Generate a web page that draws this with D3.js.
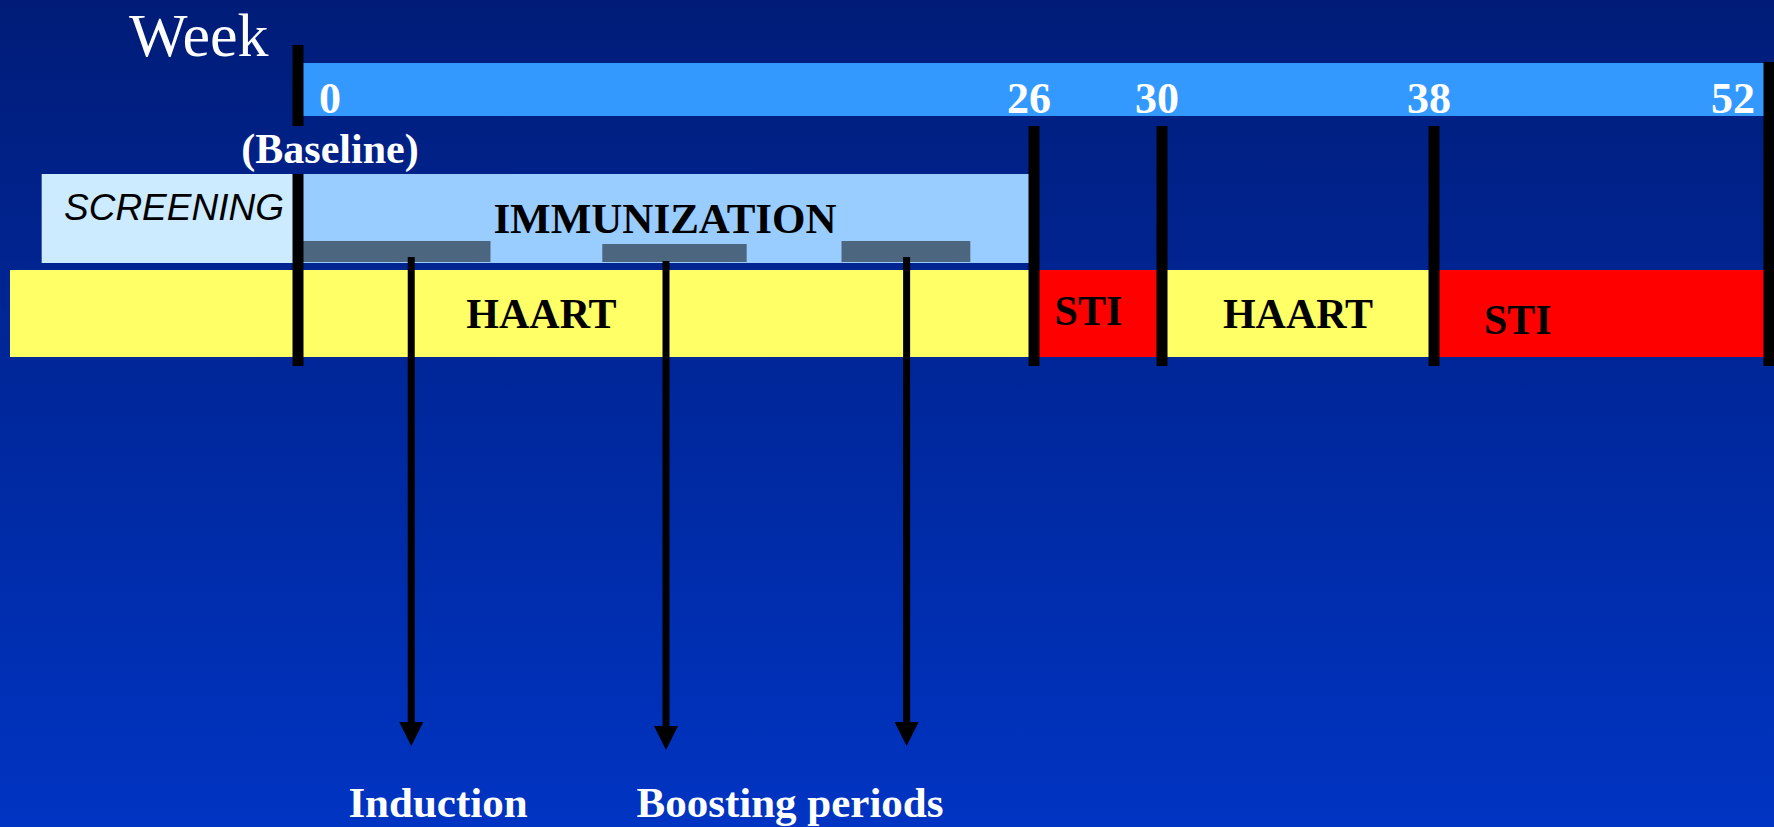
<!DOCTYPE html>
<html>
<head>
<meta charset="utf-8">
<script src="https://cdn.jsdelivr.net/npm/d3@7"></script>
<style>
  html, body { margin: 0; padding: 0; overflow: hidden; }
  svg { display: block; }
</style>
</head>
<body>
<div id="chart"></div>
<script>
// week markers on the timeline
const weekTicks = [0, 26, 30, 38, 52];

// treatment row (weeks)
const treatment = [
  { name: "HAART", start: -10, end: 26, labelWeek: 8.6 },
  { name: "STI", start: 26, end: 30, labelWeek: 27.7 },
  { name: "HAART", start: 30, end: 38, labelWeek: 34 },
  { name: "STI", start: 38, end: 52, labelWeek: 41.5 }
];

// study phases row (weeks)
const phases = [
  { name: "SCREENING", start: -8.9, end: 0 },
  { name: "IMMUNIZATION", start: 0, end: 26 }
];

// vaccination periods (weeks) and where each arrow points from
const periods = [
  { start: 0, end: 6.8, arrowWeek: 4 },
  { start: 10.75, end: 15.85, arrowWeek: 13 },
  { start: 19.2, end: 23.75, arrowWeek: 21.5 }
];

const bottomLabels = ["Induction", "Boosting periods"];

const width = 1774,
  height = 827;

const svg = d3.select("#chart").append("svg").attr("width", width).attr("height", height);

const grad = svg.append("defs").append("linearGradient").attr("id", "bg").attr("x1", 0).attr("y1", 0).attr("x2", 0).attr("y2", 1);
grad.append("stop").attr("offset", "0%").attr("stop-color", "#001c78");
grad.append("stop").attr("offset", "100%").attr("stop-color", "#0034c2");

svg.append("rect").attr("width", width).attr("height", height).attr("fill", "url(#bg)");

// schematic timeline: segments are not drawn to one scale
const x = d3.scaleLinear().domain([-10, 0, 26, 30, 38, 52]).range([10, 298, 1034, 1162, 1434, 1769]);

const serif = "'Liberation Serif', 'Times New Roman', serif";
const phaseColor = { SCREENING: "#ccebff", IMMUNIZATION: "#99ccff" };
const treatColor = { HAART: "#ffff66", STI: "#ff0000" };

// week band
svg.append("rect").attr("x", x(0)).attr("y", 63).attr("width", x(52) - x(0)).attr("height", 53).attr("fill", "#3399ff");

svg.append("text").attr("x", 129).attr("y", 56).attr("fill", "#fff").attr("font-family", serif).attr("font-size", 62).text("Week");

svg
  .selectAll("text.tick")
  .data(weekTicks)
  .join("text")
  .attr("class", "tick")
  .attr("x", d => (d === 0 ? x(d) + 32 : d === 52 ? x(d) - 36 : x(d) - 5))
  .attr("y", 113)
  .attr("text-anchor", "middle")
  .attr("fill", "#fff")
  .attr("font-family", serif)
  .attr("font-weight", "bold")
  .attr("font-size", 44)
  .text(d => d);

svg
  .append("text")
  .attr("x", x(0) + 32)
  .attr("y", 163)
  .attr("text-anchor", "middle")
  .attr("fill", "#fff")
  .attr("font-family", serif)
  .attr("font-weight", "bold")
  .attr("font-size", 42)
  .text("(Baseline)");

// phases
svg
  .selectAll("rect.phase")
  .data(phases)
  .join("rect")
  .attr("class", "phase")
  .attr("x", d => x(d.start))
  .attr("y", 174)
  .attr("width", d => x(d.end) - x(d.start))
  .attr("height", 89)
  .attr("fill", d => phaseColor[d.name]);

svg
  .append("text")
  .attr("x", 64)
  .attr("y", 220)
  .attr("font-family", "'Liberation Sans', Arial, sans-serif")
  .attr("font-style", "italic")
  .attr("font-size", 37)
  .text(phases[0].name);

svg
  .append("text")
  .attr("x", x(13) - 1)
  .attr("y", 233)
  .attr("text-anchor", "middle")
  .attr("font-family", serif)
  .attr("font-weight", "bold")
  .attr("font-size", 43)
  .text(phases[1].name);

svg
  .selectAll("rect.period")
  .data(periods)
  .join("rect")
  .attr("class", "period")
  .attr("x", d => x(d.start))
  .attr("y", (d, i) => (i === 1 ? 244 : 241))
  .attr("width", d => x(d.end) - x(d.start))
  .attr("height", (d, i) => (i === 1 ? 18 : 21))
  .attr("fill", "#4d6680");

// treatment row
svg
  .selectAll("rect.treat")
  .data(treatment)
  .join("rect")
  .attr("class", "treat")
  .attr("x", d => x(d.start))
  .attr("y", 270)
  .attr("width", d => x(d.end) - x(d.start))
  .attr("height", 87)
  .attr("fill", d => treatColor[d.name]);

svg
  .selectAll("text.treat")
  .data(treatment)
  .join("text")
  .attr("class", "treat")
  .attr("x", d => x(d.labelWeek))
  .attr("y", (d, i) => (i === 3 ? 334 : i === 1 ? 325 : 328))
  .attr("text-anchor", "middle")
  .attr("font-family", serif)
  .attr("font-weight", "bold")
  .attr("font-size", 42)
  .text(d => d.name);

// week dividers
const lines = svg.append("g").attr("stroke", "#000").attr("stroke-width", 11);
lines.append("line").attr("x1", x(0)).attr("x2", x(0)).attr("y1", 45).attr("y2", 126);
lines.append("line").attr("x1", x(0)).attr("x2", x(0)).attr("y1", 174).attr("y2", 366);
lines
  .selectAll("line.div")
  .data(weekTicks.slice(1))
  .join("line")
  .attr("class", "div")
  .attr("x1", d => x(d))
  .attr("x2", d => x(d))
  .attr("y1", d => (d === 52 ? 62 : 126))
  .attr("y2", 366);

// arrows to the labels
const arrows = svg.append("g");
arrows
  .selectAll("line")
  .data(periods)
  .join("line")
  .attr("x1", d => x(d.arrowWeek))
  .attr("x2", d => x(d.arrowWeek))
  .attr("y1", (d, i) => (i === 1 ? 261 : 257))
  .attr("y2", (d, i) => (i === 1 ? 728 : 724))
  .attr("stroke", "#000")
  .attr("stroke-width", 7);
arrows
  .selectAll("path")
  .data(periods)
  .join("path")
  .attr("d", (d, i) => {
    const cx = x(d.arrowWeek),
      tip = i === 1 ? 750 : 746;
    return `M${cx - 12},${tip - 24}L${cx + 12},${tip - 24}L${cx},${tip}Z`;
  })
  .attr("fill", "#000");

svg
  .selectAll("text.bottom")
  .data(bottomLabels)
  .join("text")
  .attr("class", "bottom")
  .attr("x", (d, i) => (i === 0 ? 438 : 790))
  .attr("y", 817)
  .attr("text-anchor", "middle")
  .attr("fill", "#fff")
  .attr("font-family", serif)
  .attr("font-weight", "bold")
  .attr("font-size", 43)
  .text(d => d);
</script>
</body>
</html>
